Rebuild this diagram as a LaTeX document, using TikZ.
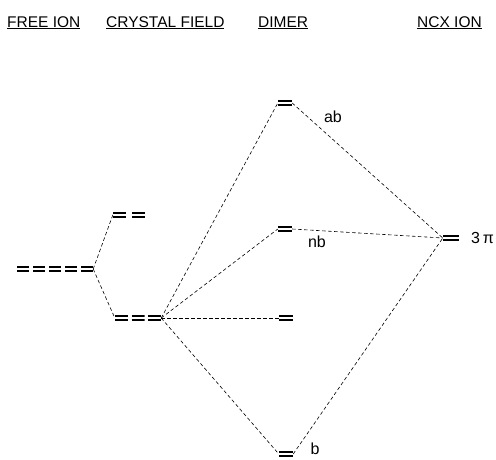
\documentclass[tikz,border=0pt]{standalone}
\usepackage{fontspec}
\setmainfont{Liberation Sans}
\begin{document}
\begin{tikzpicture}[
    x=1pt, y=-1pt,
    lvl/.style={rectangle, minimum width=#1, minimum height=7pt, inner sep=0pt,
        path picture={
            \draw[line width=1.8pt] ([yshift=-1.4pt]path picture bounding box.north west) -- ([yshift=-1.4pt]path picture bounding box.north east);
            \draw[line width=1.8pt] ([yshift=1.4pt]path picture bounding box.south west) -- ([yshift=1.4pt]path picture bounding box.south east);
        }},
    lvl/.default=13pt,
    link/.style={dash pattern=on 3.5pt off 2.5pt, line width=0.6pt},
    head/.style={anchor=base west, inner sep=0pt, font=\fontsize{15.5}{18}\selectfont},
    tag/.style={inner sep=0pt, font=\fontsize{16}{18}\selectfont}
]
\useasboundingbox (0,0) rectangle (496,459);

% Column headings
\node[head] (h_free) at (7,27) {\underline{FREE ION}};
\node[head] (h_cf) at (106,27) {\underline{CRYSTAL FIELD}};
\node[head] (h_dim) at (258,27) {\underline{DIMER}};
\node[head] (h_ncx) at (417,27) {\underline{NCX ION}};

% Free ion: five-fold level
\foreach \i in {1,...,5}
    \node[lvl=12pt] (f\i) at ({7+16*\i}, 269) {};

% Crystal field: split into two + three
\node[lvl] (cu1) at (119.5,215) {};
\node[lvl] (cu2) at (138.5,215) {};
\foreach \i/\x in {1/121.5, 2/138, 3/154.5}
    \node[lvl] (cl\i) at (\x,318) {};

% Dimer levels
\node[lvl=14pt] (d_ab) at (285,103) {};
\node[lvl=14pt] (d_nb) at (285,229) {};
\node[lvl=14pt] (d_mid) at (286,318) {};
\node[lvl=14pt] (d_b) at (286,454) {};

% NCX ion level
\node[lvl=16pt] (ncx) at (451,238) {};
\node[tag, anchor=west] (pi3) at (471,238) {3\,π};

% Level labels
\node[tag] (lab_ab) at (333,117) {ab};
\node[tag] (lab_nb) at (317,242) {nb};
\node[tag] (lab_b) at (315,449) {b};

% Free ion -> crystal field
\draw[link] (f5.east) -- (cu1.west);
\draw[link] (f5.east) -- (cl1.west);

% Crystal field -> dimer
\draw[link] (cl3.east) -- (d_ab.west);
\draw[link] (cl3.east) -- (d_nb.west);
\draw[link] (cl3.east) -- (d_mid.west);
\draw[link] (cl3.east) -- (d_b.west);

% Dimer -> NCX ion
\draw[link] (d_ab.east) -- (ncx.west);
\draw[link] (d_nb.east) -- (ncx.west);
\draw[link] (d_b.east) -- (ncx.west);

\end{tikzpicture}
\end{document}
